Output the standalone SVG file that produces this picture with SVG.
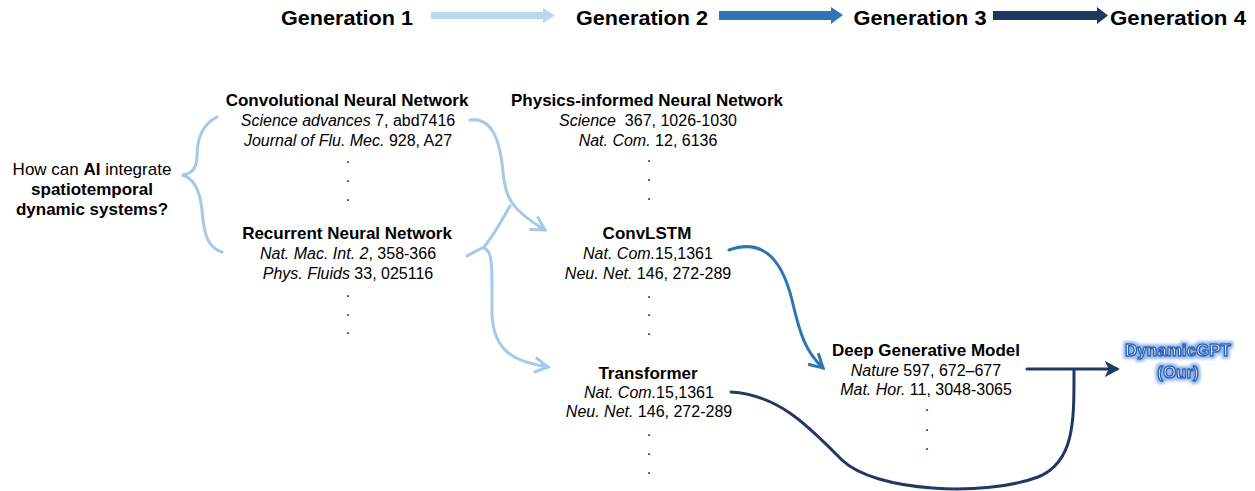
<svg xmlns="http://www.w3.org/2000/svg" width="1255" height="491" viewBox="0 0 1255 491">
  <defs>
    <style>
      text { font-family: "Liberation Sans", Arial, sans-serif; fill: #000; }
      .gen { font-size: 20.5px; font-weight: bold; text-anchor: middle; }
      .title { font-size: 17px; font-weight: bold; text-anchor: middle; }
      .ref { font-size: 16px; text-anchor: middle; }
      .dot { font-size: 16px; text-anchor: middle; fill: #222; }
      .q { font-size: 17px; text-anchor: middle; }
      .it { font-style: italic; }
      .b { font-weight: bold; }
      .ours { font-size: 17px; font-weight: bold; text-anchor: middle; fill: #ffffff; stroke: #2f63b8; stroke-width: 1.5; stroke-linejoin: round; filter: url(#glow); }
      .light { fill: none; stroke: #a6c8ea; stroke-width: 3; stroke-linecap: round; }
      .mid { fill: none; stroke: #2e75b6; stroke-width: 3; stroke-linecap: round; }
      .dark { fill: none; stroke: #203864; stroke-width: 3; stroke-linecap: round; }
    </style>
    <marker id="headLight" viewBox="0 0 12 12" refX="10" refY="6" markerWidth="6" markerHeight="6" orient="auto" markerUnits="strokeWidth">
      <polyline points="1,1 10,6 1,11" fill="none" stroke="#a6c8ea" stroke-width="2"/>
    </marker>
    <marker id="headMid" viewBox="0 0 12 12" refX="10" refY="6" markerWidth="6" markerHeight="6" orient="auto" markerUnits="strokeWidth">
      <polyline points="1,1 10,6 1,11" fill="none" stroke="#2e75b6" stroke-width="2"/>
    </marker>
    <marker id="headDark" viewBox="0 0 12 12" refX="9" refY="6" markerWidth="5.5" markerHeight="5.5" orient="auto" markerUnits="strokeWidth">
      <path d="M0,0 L11,6 L0,12 L3,6 Z" fill="#203864"/>
    </marker>
    <filter id="glow" x="-20%" y="-50%" width="140%" height="200%">
      <feMorphology in="SourceAlpha" operator="dilate" radius="1.8" result="grow"/>
      <feGaussianBlur in="grow" stdDeviation="1.5" result="soft"/>
      <feFlood flood-color="#8fb6ea" result="tint"/>
      <feComposite in="tint" in2="soft" operator="in" result="halo"/>
      <feMerge>
        <feMergeNode in="halo"/>
        <feMergeNode in="SourceGraphic"/>
      </feMerge>
    </filter>
  </defs>

  <rect width="1255" height="491" fill="#ffffff"/>

  <!-- Generation timeline -->
  <g id="timeline">
    <text class="gen" x="347" y="25" textLength="132" lengthAdjust="spacingAndGlyphs">Generation 1</text>
    <text class="gen" x="642" y="25" textLength="132" lengthAdjust="spacingAndGlyphs">Generation 2</text>
    <text class="gen" x="920" y="25" textLength="133" lengthAdjust="spacingAndGlyphs">Generation 3</text>
    <text class="gen" x="1178" y="25" textLength="136" lengthAdjust="spacingAndGlyphs">Generation 4</text>
    <polygon points="431,12 543,12 543,8 555,15.5 543,23 543,19 431,19" fill="#bdd7ee"/>
    <polygon points="719,11 831,11 831,7 843,15 831,24 831,20 719,20" fill="#2e75b6"/>
    <polygon points="993,11 1097,11 1097,7 1108,15.5 1097,24 1097,20 993,20" fill="#203864"/>
  </g>

  <!-- Question -->
  <g id="question">
    <text class="q" x="92" y="175">How can <tspan class="b">AI</tspan> integrate</text>
    <text class="q b" x="92" y="195">spatiotemporal</text>
    <text class="q b" x="92" y="215">dynamic systems?</text>
  </g>

  <!-- Generation 1 models -->
  <g id="cnn">
    <text class="title" x="347" y="106">Convolutional Neural Network</text>
    <text class="ref" x="348" y="126"><tspan class="it">Science advances</tspan> 7, abd7416</text>
    <text class="ref" x="348" y="146"><tspan class="it">Journal of Flu. Mec.</tspan> 928, A27</text>
    <text class="dot" x="348" y="163">.</text>
    <text class="dot" x="348" y="182">.</text>
    <text class="dot" x="348" y="201">.</text>
  </g>

  <g id="rnn">
    <text class="title" x="347" y="239">Recurrent Neural Network</text>
    <text class="ref" x="348" y="259"><tspan class="it">Nat. Mac. Int. 2</tspan>, 358-366</text>
    <text class="ref" x="348" y="279"><tspan class="it">Phys. Fluids</tspan> 33, 025116</text>
    <text class="dot" x="348" y="297">.</text>
    <text class="dot" x="348" y="316">.</text>
    <text class="dot" x="348" y="334">.</text>
  </g>

  <!-- Generation 2 models -->
  <g id="pinn">
    <text class="title" x="647" y="106">Physics-informed Neural Network</text>
    <text class="ref" x="648" y="126"><tspan class="it">Science</tspan>&#160; 367, 1026-1030</text>
    <text class="ref" x="648" y="146"><tspan class="it">Nat. Com.</tspan> 12, 6136</text>
    <text class="dot" x="649" y="162">.</text>
    <text class="dot" x="649" y="181">.</text>
    <text class="dot" x="649" y="200">.</text>
  </g>

  <g id="convlstm">
    <text class="title" x="647" y="239">ConvLSTM</text>
    <text class="ref" x="648" y="259"><tspan class="it">Nat. Com.</tspan>15,1361</text>
    <text class="ref" x="648" y="279"><tspan class="it">Neu. Net.</tspan> 146, 272-289</text>
    <text class="dot" x="649" y="298">.</text>
    <text class="dot" x="649" y="316">.</text>
    <text class="dot" x="649" y="335">.</text>
  </g>

  <g id="transformer">
    <text class="title" x="648" y="379">Transformer</text>
    <text class="ref" x="649" y="398"><tspan class="it">Nat. Com.</tspan>15,1361</text>
    <text class="ref" x="649" y="417"><tspan class="it">Neu. Net.</tspan> 146, 272-289</text>
    <text class="dot" x="649" y="436">.</text>
    <text class="dot" x="649" y="455">.</text>
    <text class="dot" x="649" y="474">.</text>
  </g>

  <!-- Generation 3 -->
  <g id="dgm">
    <text class="title" x="926" y="356">Deep Generative Model</text>
    <text class="ref" x="926" y="376"><tspan class="it">Nature</tspan> 597, 672–677</text>
    <text class="ref" x="926" y="395"><tspan class="it">Mat. Hor.</tspan> 11, 3048-3065</text>
    <text class="dot" x="927" y="411">.</text>
    <text class="dot" x="927" y="431">.</text>
    <text class="dot" x="927" y="450">.</text>
  </g>

  <!-- Generation 4 -->
  <g id="dynamicgpt">
    <text class="ours" x="1178" y="356">DynamicGPT</text>
    <text class="ours" x="1178" y="378">(Our)</text>
  </g>

  <!-- Connectors -->
  <g id="connectors">
    <!-- brace from the question to the first-generation models -->
    <path class="light" d="M217,117 C201,125 197,140 197,156 C197,168 192,174 182,175 C194,178 200,190 202,210 C204,235 208,248 222,252"/>
    <!-- CNN to ConvLSTM -->
    <path class="light" d="M470,120 C492,117 500,140 503,172 C505,198 512,210 545,230" marker-end="url(#headLight)"/>
    <!-- RNN branch joining the CNN connector -->
    <path class="light" d="M467,256 C474,252 480,249 484,247 C494,235 503,218 510,206"/>
    <!-- RNN to Transformer -->
    <path class="light" d="M484,248 C491,250 492,262 492,285 L492,315 C494,352 515,362 548,367" marker-end="url(#headLight)"/>
    <!-- ConvLSTM to Deep Generative Model -->
    <path class="mid" d="M729,250 C768,236 784,268 792,300 C800,335 806,352 823,368" marker-end="url(#headMid)"/>
    <!-- Transformer loop joining the final arrow -->
    <path class="dark" d="M731,392 C780,395 810,428 842,460 C875,492 985,497 1038,477 C1075,462 1074,420 1074,370"/>
    <!-- Deep Generative Model to DynamicGPT -->
    <path class="dark" d="M1027,369 L1117,369" marker-end="url(#headDark)"/>
  </g>
</svg>
